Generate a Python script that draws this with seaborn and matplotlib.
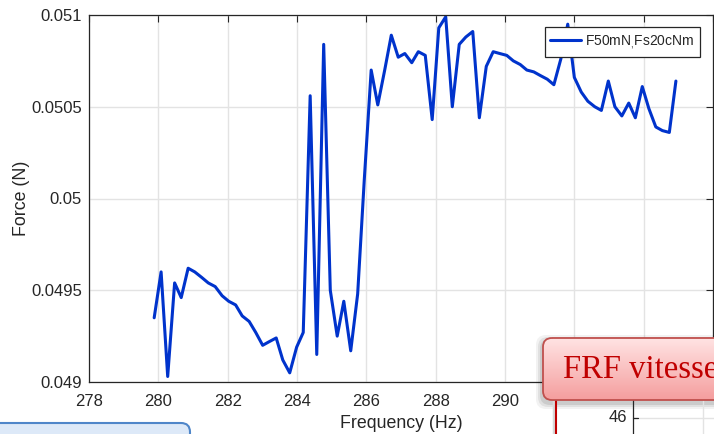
import matplotlib
matplotlib.use("Agg")
import numpy as np
import pandas as pd
import seaborn as sns
import matplotlib.pyplot as plt
from matplotlib.patches import FancyBboxPatch, Rectangle

# Measured force response over the swept excitation frequency
freq_hz = [
    279.88, 280.08, 280.27, 280.47, 280.66, 280.86, 281.05, 281.25, 281.44, 281.64,
    281.84, 282.03, 282.23, 282.42, 282.62, 282.81, 283.01, 283.20, 283.40, 283.59,
    283.79, 283.99, 284.18, 284.38, 284.57, 284.77, 284.96, 285.16, 285.35, 285.55,
    285.75, 285.94, 286.14, 286.33, 286.53, 286.72, 286.92, 287.11, 287.31, 287.50,
    287.70, 287.90, 288.09, 288.29, 288.48, 288.68, 288.87, 289.07, 289.26, 289.46,
    289.66, 289.85, 290.05, 290.24, 290.44, 290.63, 290.83, 291.02, 291.22, 291.41,
    291.61, 291.81, 292.00, 292.20, 292.39, 292.59, 292.78, 292.98, 293.17, 293.37,
    293.57, 293.76, 293.96, 294.15, 294.35, 294.54, 294.74, 294.93,
]
force_n = [
    0.04935, 0.04960, 0.04903, 0.04954, 0.04946, 0.04962, 0.04960, 0.04957, 0.04954, 0.04952,
    0.04947, 0.04944, 0.04942, 0.04936, 0.04933, 0.04927, 0.04920, 0.04922, 0.04924, 0.04912,
    0.04905, 0.04919, 0.04927, 0.05056, 0.04915, 0.05084, 0.04950, 0.04925, 0.04944, 0.04917,
    0.04948, 0.05010, 0.05070, 0.05051, 0.05070, 0.05089, 0.05077, 0.05079, 0.05074, 0.05080,
    0.05078, 0.05043, 0.05093, 0.05099, 0.05050, 0.05084, 0.05088, 0.05091, 0.05044, 0.05072,
    0.05080, 0.05079, 0.05078, 0.05075, 0.05073, 0.05070, 0.05069, 0.05067, 0.05065, 0.05062,
    0.05076, 0.05095, 0.05066, 0.05058, 0.05053, 0.05050, 0.05048, 0.05064, 0.05050, 0.05045,
    0.05052, 0.05044, 0.05061, 0.05049, 0.05039, 0.05037, 0.05036, 0.05064,
]
series_label = r"F50mN$_{,}$Fs20cNm"

x_ticks = [278, 280, 282, 284, 286, 288, 290, 292, 294, 296]
x_tick_labels = ["278", "280", "282", "284", "286", "288", "290", "292", "294", "296"]
y_ticks = [0.049, 0.0495, 0.050, 0.0505, 0.051]
y_tick_labels = ["0.049", "0.0495", "0.05", "0.0505", "0.051"]

sns.set_style("white")
plt.rcParams["font.family"] = ["Liberation Sans", "DejaVu Sans"]
plt.rcParams["mathtext.fontset"] = "custom"
plt.rcParams["mathtext.rm"] = "Liberation Sans"

W, H = 714, 434
fig = plt.figure(figsize=(W / 100, H / 100), dpi=100)
fig.patch.set_facecolor("white")

ax = fig.add_axes([89 / W, 1 - 382 / H, 624 / W, 367 / H])
df = pd.DataFrame({"freq": freq_hz, "force": force_n})
sns.lineplot(data=df, x="freq", y="force", ax=ax, color="#0033CC",
             linewidth=2.2, label=series_label, sort=False)

axis_col = "#262626"
ax.set_xlim(278, 296)
ax.set_ylim(0.049, 0.051)
ax.set_xticks(x_ticks)
ax.set_xticklabels(x_tick_labels)
ax.set_yticks(y_ticks)
ax.set_yticklabels(y_tick_labels)
ax.tick_params(direction="in", length=5, width=0.8, colors=axis_col,
               labelsize=12, top=True, right=True)
ax.tick_params(axis="x", pad=9)
ax.tick_params(axis="y", pad=5)
ax.grid(True, color="#e3e3e3", linewidth=1.0)
ax.set_axisbelow(True)
for s in ax.spines.values():
    s.set_color(axis_col)
    s.set_linewidth(0.9)
ax.set_xlabel("Frequency (Hz)", fontsize=12.8, color=axis_col, labelpad=4)
ax.set_ylabel("Force (N)", fontsize=12.8, color=axis_col, labelpad=1)

leg = ax.legend(loc="upper right", bbox_to_anchor=(0.979, 0.966), borderaxespad=0,
                fontsize=10, frameon=True, fancybox=False, framealpha=1,
                handlelength=2.2, handletextpad=0.3, borderpad=0.4)
leg.get_frame().set_edgecolor(axis_col)
leg.get_frame().set_linewidth(0.9)

# Foreground annotations drawn in pixel coordinates
ov = fig.add_axes([0, 0, 1, 1], zorder=10)
ov.set_xlim(0, W)
ov.set_ylim(H, 0)
ov.axis("off")

# partial panel below the callout
ov.add_patch(Rectangle((540, 399), 200, 40, fc="white", ec="none"))
ov.plot([703, 703], [400, 440], color="#e3e3e3", lw=1.0)
ov.plot([633, 720], [418, 418], color="#e3e3e3", lw=1.0)
ov.plot([633, 633], [398, 440], color=axis_col, lw=0.9)
ov.plot([633, 638], [418, 418], color=axis_col, lw=0.9)
ov.text(627, 418, "46", ha="right", va="center", fontsize=12, color=axis_col)
ov.plot([553.5, 553.5], [398, 440], color="#d8d8d8", lw=2.5)
ov.plot([556, 556], [398, 440], color="#c00000", lw=1.5)

# callout with soft shadow and vertical gradient
for k, a in [(6, 0.05), (4, 0.07), (2, 0.09)]:
    ov.add_patch(FancyBboxPatch((543 - k - 1, 338 - k + 3), 200 + 2 * k, 62 + 2 * k,
                                boxstyle="round,pad=0,rounding_size=10",
                                fc="#000000", ec="none", alpha=a))
box = FancyBboxPatch((543, 338), 200, 62, boxstyle="round,pad=0,rounding_size=9",
                     fc="none", ec="#c0504d", lw=1.3, zorder=3)
ov.add_patch(box)
grad = np.linspace(0, 1, 64)[:, None]
top = np.array([1.0, 0.89, 0.89])
bot = np.array([0.96, 0.62, 0.62])
img = (top[None, None, :] * (1 - grad[..., None]) + bot[None, None, :] * grad[..., None])
img = np.repeat(img, 2, axis=1)
im = ov.imshow(img, extent=(543, 743, 400, 338), origin="upper", aspect="auto", zorder=2)
im.set_clip_path(box)
ov.set_xlim(0, W)
ov.set_ylim(H, 0)
ov.text(563, 370, "FRF vitesse", ha="left", va="center", fontsize=23.5,
        family="Liberation Serif", color="#c00000", zorder=4)

# rounded blue box at the lower left
ov.add_patch(FancyBboxPatch((-20, 423), 210, 40, boxstyle="round,pad=0,rounding_size=9",
                            fc="#dde9f8", ec="#4f86c9", lw=1.5))

fig.savefig("out.png", dpi=100, facecolor="white")
